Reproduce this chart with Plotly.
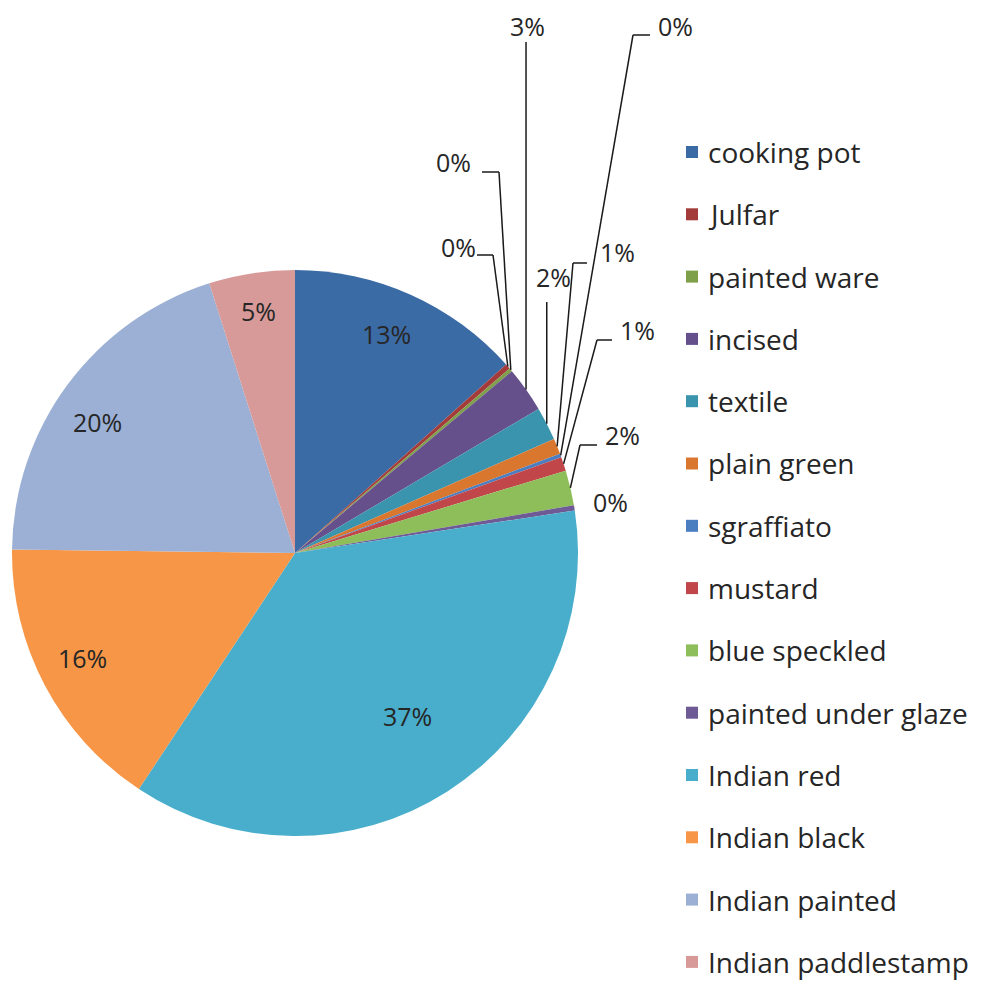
import math
import plotly.graph_objects as go

# ---- data ----
categories = ["cooking pot", "Julfar", "painted ware", "incised", "textile",
              "plain green", "sgraffiato", "mustard", "blue speckled",
              "painted under glaze", "Indian red", "Indian black",
              "Indian painted", "Indian paddlestamp"]
values = [13.4, 0.3, 0.2, 2.6, 1.9, 0.9, 0.2, 0.8, 2.0, 0.3, 36.7, 15.9, 19.9, 4.9]
colors = ["#3B6BA5", "#A33B3A", "#7EA04A", "#66508C", "#3A94AE", "#D9772F",
          "#4A7EC0", "#C0464A", "#8DBE5A", "#6E5A95", "#48AECB", "#F79646",
          "#9BB0D4", "#D79A98"]

W, H = 989, 982
OFF = 8                              # page body margin
CX, CY, R = 295, 553, 283            # pie centre / radius in page pixels
FONT = "'Open Sans', sans-serif"
TXT = "#262626"

def px(x):
    return (x - OFF) / W

def py(y):
    return 1 - (y - OFF) / H

total = sum(values)
mids = []
acc = 0.0
for v in values:
    mids.append((acc + v / 2) / total * 360)
    acc += v

def polar(angle_deg, r):
    a = math.radians(angle_deg)
    return CX + r * math.sin(a), CY - r * math.cos(a)

fig = go.Figure(go.Pie(
    labels=categories, values=values, sort=False, direction="clockwise",
    rotation=0, marker=dict(colors=colors, line=dict(width=0)),
    textinfo="none", hoverinfo="label+percent", showlegend=False,
    domain=dict(x=[px(CX - R), px(CX + R)], y=[py(CY + R), py(CY - R)]),
))

annotations = []
shapes = []

def pct_text(v):
    return f"{round(v / total * 100):d}%"

def label(x, y, text, size, xanchor="center"):
    annotations.append(dict(x=px(x), y=py(y), xref="paper", yref="paper",
                            text=text, showarrow=False, xanchor=xanchor,
                            yanchor="middle",
                            font=dict(family=FONT, size=size, color=TXT)))

# inside label positions (page pixels)
inside = {0: (386, 334), 10: (407, 716), 11: (82, 658), 12: (97, 422), 13: (258, 311)}
for i, (x, y) in inside.items():
    label(x, y, pct_text(values[i]), 25)

# outside labels: label position, optional leader path (elbow, end)
outside = {
    1: ((458, 247), [(493, 255), (477, 255)]),
    2: ((453, 162), [(499, 172), (482, 172)]),
    3: ((527, 26), [None, (None, 42)]),
    4: ((553, 277), [None, (None, 302)]),
    5: ((617, 252), [(573, 263), (587, 263)]),
    6: ((675, 26), [(633, 35), (650, 35)]),
    7: ((637, 330), [(597, 340), (612, 340)]),
    8: ((622, 435), [(580, 445), (597, 445)]),
    9: ((610, 502), None),
}
for i, (lab, path) in outside.items():
    label(lab[0], lab[1], pct_text(values[i]), 25)
    if path is None:
        continue
    ex, ey = polar(mids[i], R)
    elbow, end = path
    pts = [(ex, ey)]
    if elbow is not None:
        pts.append(elbow)
        pts.append(end)
    else:
        pts.append((ex, end[1]))
    for (x0, y0), (x1, y1) in zip(pts[:-1], pts[1:]):
        shapes.append(dict(type="line", xref="paper", yref="paper",
                           x0=px(x0), y0=py(y0), x1=px(x1), y1=py(y1),
                           line=dict(color="#1a1a1a", width=1.5)))

# custom legend
LX, LY0, LDY, MS = 686, 152, 62.3, 12
for k, (name, c) in enumerate(zip(categories, colors)):
    yc = LY0 + k * LDY
    shapes.append(dict(type="rect", xref="paper", yref="paper",
                       x0=px(LX), x1=px(LX + MS), y0=py(yc - MS / 2), y1=py(yc + MS / 2),
                       fillcolor=c, line=dict(width=0)))
    label(LX + MS + 8, yc, name, 28, xanchor="left")

fig.update_layout(width=W, height=H, margin=dict(l=0, r=0, t=0, b=0),
                  paper_bgcolor="white", plot_bgcolor="white",
                  annotations=annotations, shapes=shapes)
fig.write_html("out.html")
